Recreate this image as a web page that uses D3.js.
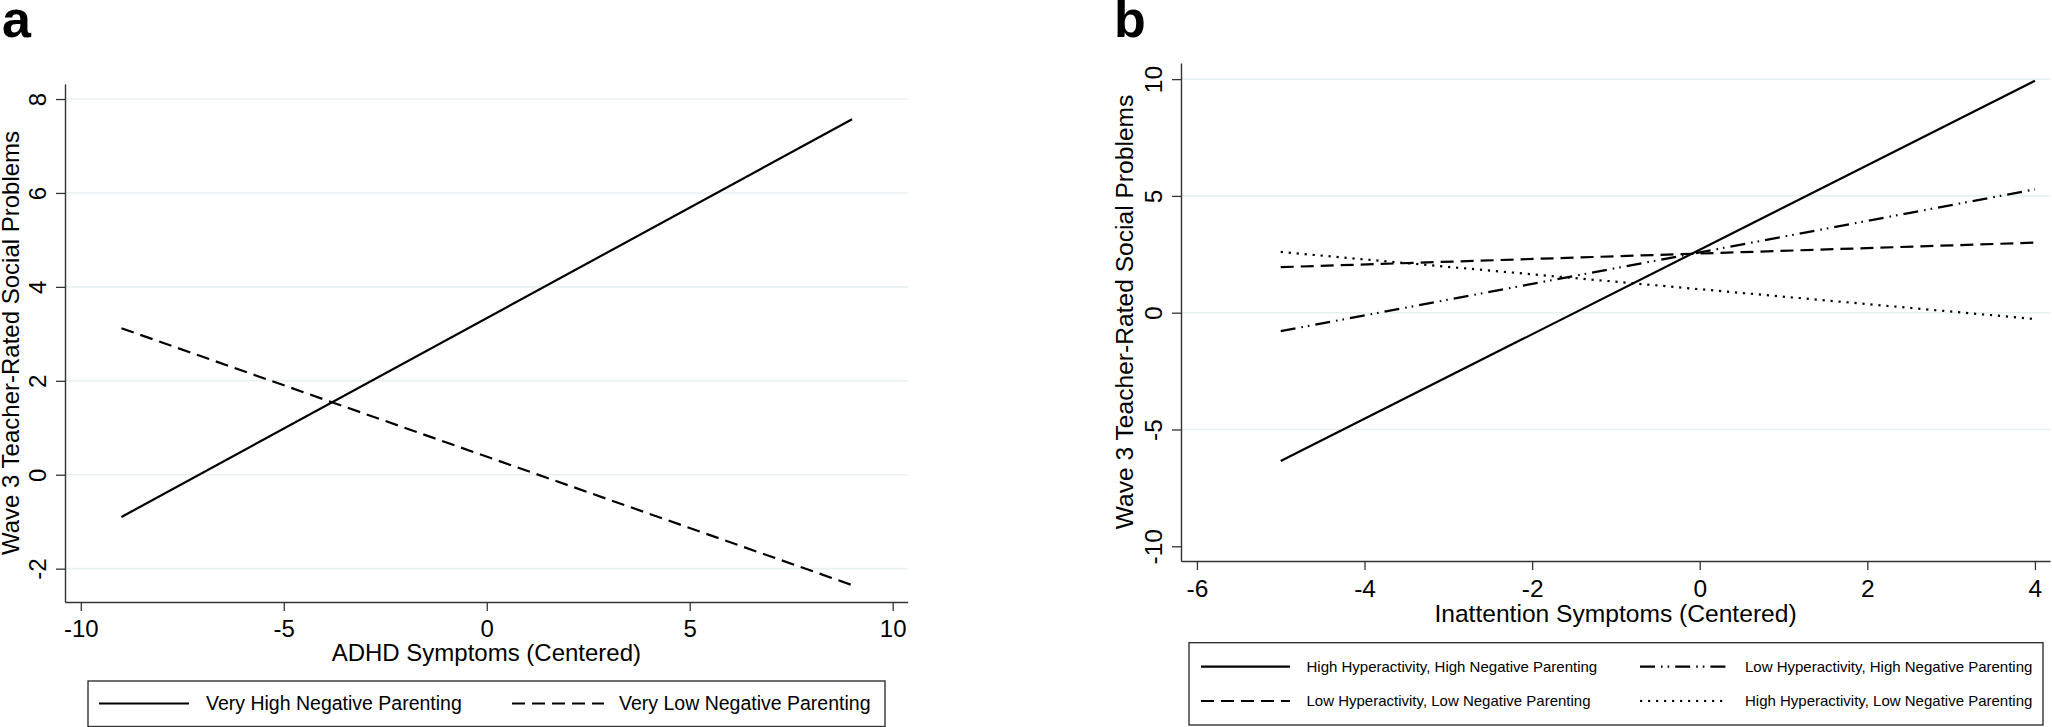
<!DOCTYPE html>
<html>
<head>
<meta charset="utf-8">
<script src="https://cdn.jsdelivr.net/npm/d3@7"></script>
<style>
  html, body { margin: 0; padding: 0; background: #fff; }
  svg { display: block; font-family: "Liberation Sans", Arial, Helvetica, sans-serif; }
</style>
</head>
<body>
<svg id="chart" width="2052" height="727"></svg>
<script>
// ---------------- DATA ----------------
// Panel a
const aX = [-9, 9];
const aVeryHighNeg = [-0.9, 7.57];
const aVeryLowNeg = [3.12, -2.35];
const aXTicks = [-10, -5, 0, 5, 10];
const aYTicks = [-2, 0, 2, 4, 6, 8];
const aSeriesNames = ["Very High Negative Parenting", "Very Low Negative Parenting"];

// Panel b
const bX = [-5, 4];
const bHighHypHighNeg = [-6.35, 9.93];
const bLowHypHighNeg = [-0.79, 5.28];
const bLowHypLowNeg = [1.95, 3.0];
const bHighHypLowNeg = [2.6, -0.27];
const bXTicks = [-6, -4, -2, 0, 2, 4];
const bYTicks = [-10, -5, 0, 5, 10];
const bGridTicks = [-5, 0, 5, 10];
const bSeriesNames = [
  "High Hyperactivity, High Negative Parenting",
  "Low Hyperactivity, High Negative Parenting",
  "Low Hyperactivity, Low Negative Parenting",
  "High Hyperactivity, Low Negative Parenting"
];

const yTitle = "Wave 3 Teacher-Rated Social Problems";
const aXTitle = "ADHD Symptoms (Centered)";
const bXTitle = "Inattention Symptoms (Centered)";

// ---------------- STYLE ----------------
const AXIS_COLOR = "#333";
const GRID_COLOR = "#e9f0f2";
const LINE_W = 2.2;
const dashStyles = {
  solid: null,
  dash: "13,7",
  dashdot: "15,6,1.6,5,1.6,6",
  dot: "2.2,5.8"
};
const fmt = d => String(d); // plain hyphen-minus, as in the reference

const svg = d3.select("#chart");
svg.append("rect").attr("width", 2052).attr("height", 727).attr("fill", "#fff");

function drawPanel(cfg) {
  const g = svg.append("g");
  const x = d3.scaleLinear().domain(cfg.xDomain).range(cfg.xRange);
  const y = d3.scaleLinear().domain(cfg.yDomain).range(cfg.yRange);

  // gridlines
  g.append("g").selectAll("line").data(cfg.gridTicks).join("line")
    .attr("x1", cfg.xRange[0]).attr("x2", cfg.xRange[1])
    .attr("y1", d => y(d)).attr("y2", d => y(d))
    .attr("stroke", GRID_COLOR).attr("stroke-width", 1.6);

  // y axis
  const ya = g.append("g").attr("transform", `translate(${cfg.xRange[0]},0)`)
    .call(d3.axisLeft(y).tickValues(cfg.yTicks).tickSize(9).tickSizeOuter(0).tickFormat(fmt));
  ya.select(".domain").attr("stroke", AXIS_COLOR).attr("stroke-width", 1.4);
  ya.selectAll(".tick line").attr("stroke", AXIS_COLOR).attr("stroke-width", 1.3);
  ya.selectAll(".tick text")
    .attr("x", 0).attr("y", -19).attr("dy", 0)
    .attr("transform", "rotate(-90)")
    .attr("text-anchor", "middle")
    .attr("fill", "#000")
    .style("font-size", cfg.tickFont + "px")
    .style("font-family", "'Liberation Sans', Arial, sans-serif");

  // x axis
  const xa = g.append("g").attr("transform", `translate(0,${cfg.yRange[0]})`)
    .call(d3.axisBottom(x).tickValues(cfg.xTicks).tickSize(9).tickPadding(cfg.xTickPad).tickSizeOuter(0).tickFormat(fmt));
  xa.select(".domain").attr("stroke", AXIS_COLOR).attr("stroke-width", 1.4);
  xa.selectAll(".tick line").attr("stroke", AXIS_COLOR).attr("stroke-width", 1.3);
  xa.selectAll(".tick text")
    .attr("fill", "#000")
    .style("font-size", cfg.tickFont + "px")
    .style("font-family", "'Liberation Sans', Arial, sans-serif");

  // series lines
  const line = d3.line().x(d => x(d[0])).y(d => y(d[1]));
  cfg.series.forEach(s => {
    const pts = cfg.xs.map((xv, i) => [xv, s.values[i]]);
    g.append("path").datum(pts)
      .attr("d", line)
      .attr("fill", "none")
      .attr("stroke", "#000")
      .attr("stroke-width", LINE_W)
      .attr("stroke-dasharray", dashStyles[s.style]);
  });

  // y title
  const yMid = (cfg.yRange[0] + cfg.yRange[1]) / 2;
  g.append("text")
    .attr("transform", `translate(${cfg.yTitleX},${yMid}) rotate(-90)`)
    .attr("text-anchor", "middle")
    .style("font-size", cfg.titleFont + "px")
    .text(yTitle);

  // x title
  const xMid = (cfg.xRange[0] + cfg.xRange[1]) / 2;
  g.append("text")
    .attr("x", xMid).attr("y", cfg.xTitleY)
    .attr("text-anchor", "middle")
    .style("font-size", cfg.titleFont + "px")
    .text(cfg.xTitle);

  // panel letter
  g.append("text")
    .attr("x", cfg.letterX).attr("y", 37)
    .style("font-size", "52px").style("font-weight", "bold")
    .text(cfg.letter);

  // legend
  const L = cfg.legend;
  g.append("rect")
    .attr("x", L.box[0]).attr("y", L.box[1])
    .attr("width", L.box[2] - L.box[0]).attr("height", L.box[3] - L.box[1])
    .attr("fill", "#fff").attr("stroke", AXIS_COLOR).attr("stroke-width", 1.4);
  cfg.series.forEach((s, i) => {
    const it = L.items[i];
    g.append("line")
      .attr("x1", it.x1).attr("x2", it.x2).attr("y1", it.y).attr("y2", it.y)
      .attr("stroke", "#000").attr("stroke-width", LINE_W)
      .attr("stroke-dasharray", dashStyles[s.style]);
    g.append("text")
      .attr("x", it.tx).attr("y", it.y).attr("dy", "0.35em")
      .style("font-size", L.font + "px")
      .text(s.name);
  });
}

// Panel a
drawPanel({
  letter: "a", letterX: 2,
  xDomain: [-10.39, 10.37], xRange: [65, 907.7],
  yDomain: [-2.71, 8.32], yRange: [602, 84],
  xTicks: aXTicks, yTicks: aYTicks, gridTicks: aYTicks,
  xTickPad: 9, tickFont: 24, titleFont: 24,
  xs: aX,
  series: [
    { name: aSeriesNames[0], values: aVeryHighNeg, style: "solid" },
    { name: aSeriesNames[1], values: aVeryLowNeg, style: "dash" }
  ],
  yTitleX: 18.5, xTitle: aXTitle, xTitleY: 661,
  legend: {
    box: [88, 681, 885, 726.5], font: 19.5,
    items: [
      { x1: 99, x2: 189, y: 703.5, tx: 206 },
      { x1: 512, x2: 604, y: 703.5, tx: 619 }
    ]
  }
});

// Panel b
drawPanel({
  letter: "b", letterX: 1114,
  xDomain: [-6.19, 4.18], xRange: [1181, 2050],
  yDomain: [-10.63, 10.69], yRange: [561, 63],
  xTicks: bXTicks, yTicks: bYTicks, gridTicks: bGridTicks,
  xTickPad: 10, tickFont: 24.5, titleFont: 24.6,
  xs: bX,
  series: [
    { name: bSeriesNames[0], values: bHighHypHighNeg, style: "solid" },
    { name: bSeriesNames[1], values: bLowHypHighNeg, style: "dashdot" },
    { name: bSeriesNames[2], values: bLowHypLowNeg, style: "dash" },
    { name: bSeriesNames[3], values: bHighHypLowNeg, style: "dot" }
  ],
  yTitleX: 1133, xTitle: bXTitle, xTitleY: 622,
  legend: {
    box: [1189, 642.7, 2043, 725], font: 15,
    items: [
      { x1: 1201, x2: 1290, y: 666.7, tx: 1306.5 },
      { x1: 1640, x2: 1725.5, y: 666.7, tx: 1745 },
      { x1: 1201, x2: 1290, y: 701, tx: 1306.5 },
      { x1: 1640, x2: 1725.5, y: 701, tx: 1745 }
    ]
  }
});
</script>
</body>
</html>
